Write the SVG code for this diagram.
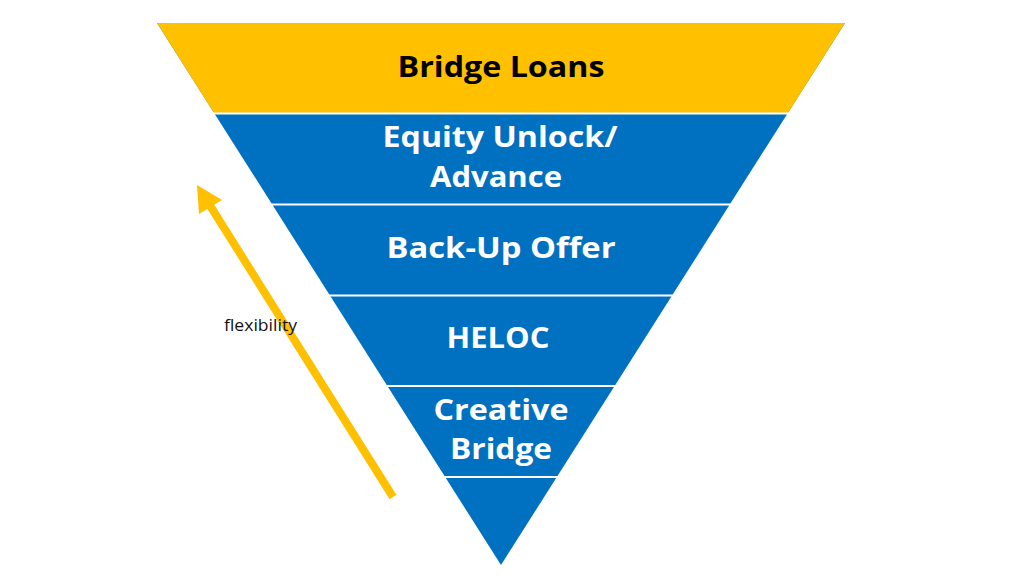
<svg xmlns="http://www.w3.org/2000/svg" width="1024" height="576" viewBox="0 0 1024 576">
<style>
.lbl{font-family:"Open Sans","Liberation Sans",sans-serif;font-weight:700;font-size:29px;text-anchor:middle}
.w{fill:#FFFFFF}
.k{fill:#000000}
.sep{stroke:#FFFFFF;stroke-width:2}
.small{font-family:"Open Sans","Liberation Sans",sans-serif;font-size:16px;fill:#111111}
</style>
<rect width="1024" height="576" fill="#FFFFFF"/>
<g id="funnel">
<polygon points="157,23 845,23 501,565" fill="#0070C0"/>
<polygon points="157,23 845,23 788,113 214,113" fill="#FFC000"/>
</g>
<g id="separators">
<line class="sep" x1="212" y1="113.5" x2="790" y2="113.5"/>
<line class="sep" x1="270" y1="204.5" x2="732" y2="204.5"/>
<line class="sep" x1="327" y1="295.5" x2="675" y2="295.5"/>
<line class="sep" x1="385" y1="386" x2="617" y2="386"/>
<line class="sep" x1="443" y1="477" x2="560" y2="477"/>
</g>
<g id="node-bridge-loans"><text class="lbl k" x="501" y="77" textLength="207" lengthAdjust="spacingAndGlyphs">Bridge Loans</text></g>
<g id="node-equity-unlock"><text class="lbl w" x="500" y="147" textLength="235" lengthAdjust="spacingAndGlyphs">Equity Unlock/</text><text class="lbl w" x="496" y="187" textLength="132" lengthAdjust="spacingAndGlyphs">Advance</text></g>
<g id="node-backup-offer"><text class="lbl w" x="501" y="258" textLength="229" lengthAdjust="spacingAndGlyphs">Back-Up Offer</text></g>
<g id="node-heloc"><text class="lbl w" x="498" y="348" textLength="103" lengthAdjust="spacingAndGlyphs">HELOC</text></g>
<g id="node-creative-bridge"><text class="lbl w" x="501" y="420" textLength="135" lengthAdjust="spacingAndGlyphs">Creative</text><text class="lbl w" x="501" y="459" textLength="102" lengthAdjust="spacingAndGlyphs">Bridge</text></g>
<g id="connectors">
<line x1="393" y1="497" x2="209" y2="204" stroke="#FFC000" stroke-width="8"/>
<polygon points="197,185 222,200 199,214" fill="#FFC000"/>
</g>
<g id="label-flexibility"><text class="small" x="224" y="331" textLength="73" lengthAdjust="spacingAndGlyphs">flexibility</text></g>
</svg>
